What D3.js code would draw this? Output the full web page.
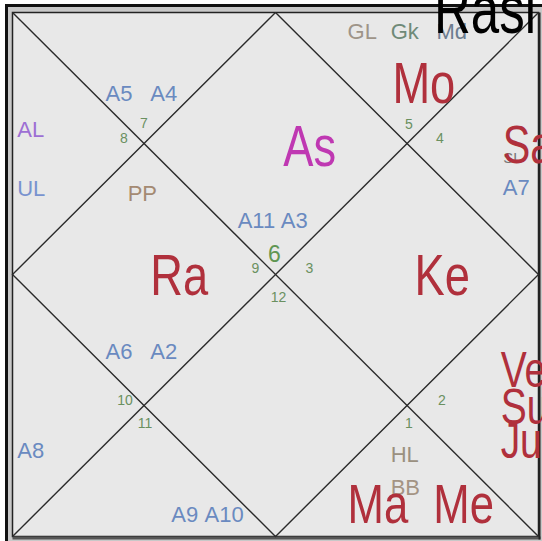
<!DOCTYPE html>
<html>
<head>
<meta charset="utf-8">
<script src="https://cdn.jsdelivr.net/npm/d3@7"></script>
<style>
  body { margin: 0; background: #fff; }
  text { font-family: "Liberation Sans", Arial, sans-serif; }
</style>
</head>
<body>
<svg id="chart" width="542" height="541"></svg>
<script>
// sign number sitting in each house (house 1 = top diamond, counter-clockwise)
const signs = [6, 7, 8, 9, 10, 11, 12, 1, 2, 3, 4, 5];

// grahas and the house they occupy
const grahas = ['As', 'Mo', 'Sa', 'Ra', 'Ke', 'Ve', 'Su', 'Ju', 'Ma', 'Me'];
const grahaHouse = [1, 12, 11, 4, 10, 9, 9, 9, 8, 8];

// arudhas / special lagnas and their house
const padas = ['A11', 'A3', 'A5', 'A4', 'AL', 'UL', 'PP', 'A6', 'A2', 'A8',
               'A9', 'A10', 'HL', 'BB', 'SL', 'A7', 'GL', 'Gk', 'Md'];
const padaHouse = [1, 1, 2, 2, 3, 3, 4, 4, 4, 5, 6, 6, 8, 8, 11, 11, 12, 12, 12];

const title = 'Rasi';

// ---- layout (chart units 0..100) ----
const x = d3.scaleLinear().domain([0, 100]).range([12.5, 538.5]);
const y = d3.scaleLinear().domain([0, 100]).range([12.5, 536.5]);

// inner corner of each house + pixel offset for its sign number
const corner = [[50, 50], [25, 25], [25, 25], [50, 50], [25, 75], [25, 75],
                [50, 50], [75, 75], [75, 75], [50, 50], [75, 25], [75, 25]];
const cornerOff = [[-1, -13], [0, -16], [-20, -1], [-20, -2], [-19, -1], [1, 22],
                   [3, 27], [2, 22], [35, -1], [34, -2], [33, -1], [2, -15]];

const spot = {
  As: [56.5, 29.3, 'middle'], Mo: [78.2, 17.3, 'middle'], Sa: [93.2, 28.8, 'start'],
  Ra: [31.7, 53.9, 'middle'], Ke: [81.7, 53.9, 'middle'],
  Ve: [92.8, 71.4, 'start'], Su: [92.8, 78.5, 'start'], Ju: [92.8, 85.1, 'start'],
  Ma: [63.7, 97.4, 'start'], Me: [80.0, 97.4, 'start'],
  A11: [42.8, 41.1], A3: [51.0, 41.1], A5: [17.7, 16.8], A4: [26.2, 16.8],
  AL: [0.9, 23.8], UL: [0.9, 35.0], PP: [21.9, 36.0], A6: [17.7, 66.1], A2: [26.2, 66.1],
  A8: [0.9, 85.0], A9: [30.2, 97.2], A10: [36.5, 97.2], HL: [71.9, 85.8], BB: [71.9, 92.1],
  SL: [93.3, 28.8], A7: [93.2, 34.9], GL: [63.7, 5.1], Gk: [71.9, 5.1], Md: [80.6, 5.1]
};

const bigSize = { Sa: 53, Ve: 50, Su: 50, Ju: 50, Ma: 56, Me: 56 };
const colour = {
  As: '#bf38b2', AL: '#9d6fd4', UL: '#7893cf', PP: '#a48a72', GL: '#9e9488',
  Gk: '#6f8a78', Md: '#6d7d90', HL: '#9a9080', BB: '#a49484', SL: '#777777'
};

const svg = d3.select('#chart');

// frame
svg.append('rect')
  .attr('x', 6.5).attr('y', 5.5)
  .attr('width', 600).attr('height', 600)
  .attr('fill', '#c8c8c8')
  .attr('stroke', '#111')
  .attr('stroke-width', 3);

svg.append('rect')
  .attr('x', x(0)).attr('y', y(0))
  .attr('width', x(100) - x(0)).attr('height', y(100) - y(0))
  .attr('fill', '#e8e8e8')
  .attr('stroke', '#222')
  .attr('stroke-width', 1.5);

svg.append('line')
  .attr('x1', x(0)).attr('x2', x(100) + 2)
  .attr('y1', y(100) + 1.5).attr('y2', y(100) + 1.5)
  .attr('stroke', '#555').attr('stroke-width', 3);

svg.append('line')
  .attr('x1', x(100) + 1).attr('x2', x(100) + 1)
  .attr('y1', y(0)).attr('y2', y(100) + 3)
  .attr('stroke', '#222').attr('stroke-width', 2);

// house lines
const line = d3.line().x(d => x(d[0])).y(d => y(d[1]));
const lines = [
  [[0, 0], [100, 100]],
  [[100, 0], [0, 100]],
  [[50, 0], [100, 50], [50, 100], [0, 50], [50, 0]]
];
svg.append('g')
  .selectAll('path')
  .data(lines)
  .join('path')
  .attr('d', line)
  .attr('fill', 'none')
  .attr('stroke', '#2a2a2a')
  .attr('stroke-width', 1.4);

// sign numbers
svg.append('g')
  .selectAll('text')
  .data(signs)
  .join('text')
  .attr('x', (d, i) => x(corner[i][0]) + cornerOff[i][0])
  .attr('y', (d, i) => y(corner[i][1]) + cornerOff[i][1])
  .attr('text-anchor', 'middle')
  .attr('font-size', (d, i) => i === 0 ? 23 : 14)
  .attr('fill', (d, i) => i === 0 ? '#5f9652' : '#6a9060')
  .text(d => d);

// arudhas
svg.append('g')
  .selectAll('text')
  .data(padas)
  .join('text')
  .attr('x', d => x(spot[d][0]))
  .attr('y', d => y(spot[d][1]))
  .attr('font-size', d => d === 'SL' ? 15 : 22)
  .attr('fill', d => colour[d] || '#6a8ac0')
  .text(d => d);

// grahas (narrow, large)
svg.append('g')
  .selectAll('text')
  .data(grahas)
  .join('text')
  .attr('transform', d => `translate(${x(spot[d][0])},${y(spot[d][1])}) scale(0.78,1)`)
  .attr('text-anchor', d => spot[d][2])
  .attr('font-size', d => bigSize[d] || 58)
  .attr('fill', d => colour[d] || '#b0303c')
  .text(d => d);

svg.append('text')
  .attr('transform', 'translate(434,33) scale(0.75,1)')
  .attr('font-size', 68)
  .attr('fill', '#000')
  .text(title);
</script>
</body>
</html>
